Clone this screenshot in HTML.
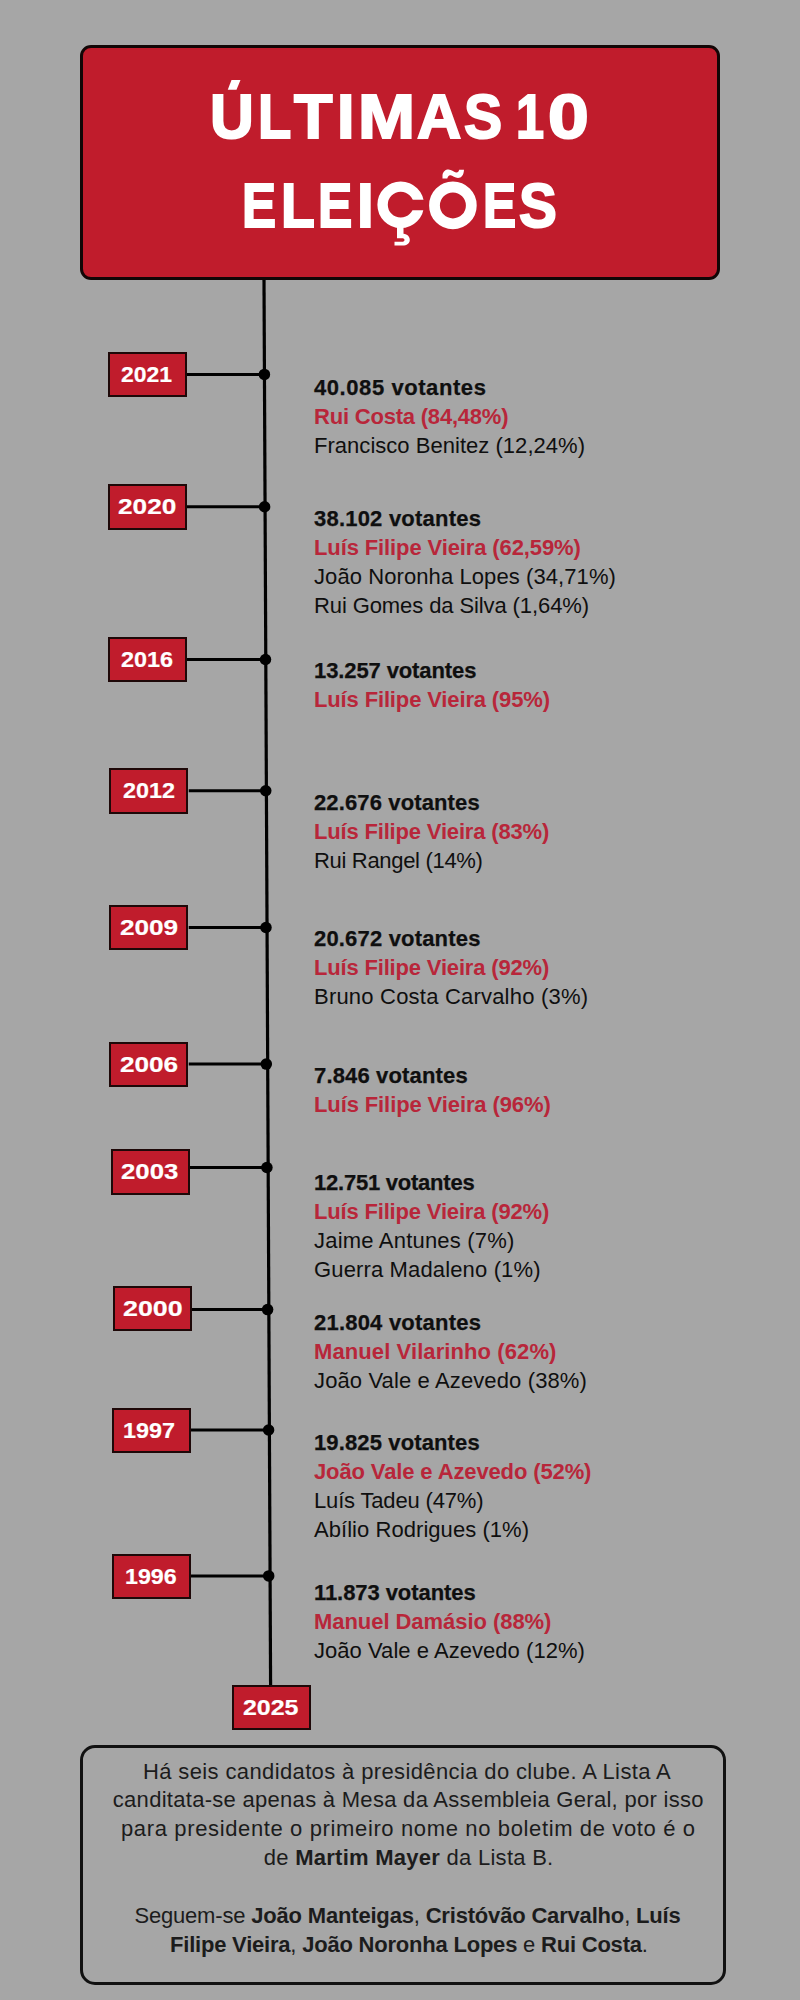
<!DOCTYPE html>
<html><head><meta charset="utf-8">
<style>
html,body{margin:0;padding:0;}
body{width:800px;height:2000px;background:#a6a6a6;position:relative;overflow:hidden;font-family:"Liberation Sans",sans-serif;}
.a{position:absolute;white-space:nowrap;}
.title{position:absolute;left:80px;top:45px;width:640px;height:235px;box-sizing:border-box;background:#c01c2c;border:3px solid #120606;border-radius:11px;}
.tl{position:absolute;transform-origin:0 0;color:#fff;font-weight:bold;font-size:63px;line-height:80px;-webkit-text-stroke:2px #fff;white-space:nowrap;}
.lab{position:absolute;box-sizing:border-box;width:79px;height:45.4px;background:#c01c2c;border:2px solid #1e0808;color:#fff;font-weight:bold;font-size:22px;text-align:center;line-height:42px;}
.lt{position:absolute;transform-origin:0 0;color:#fff;font-weight:bold;font-size:22px;line-height:42px;-webkit-text-stroke:0.2px #fff;white-space:nowrap;}
.ln{position:absolute;left:314px;font-size:22px;line-height:29px;white-space:nowrap;color:#0f0f0f;}
.b{font-weight:bold;-webkit-text-stroke:0.25px #0f0f0f;}
.r{color:#b8263a;font-weight:bold;}
.note{position:absolute;left:80px;top:1745px;width:646px;height:240px;box-sizing:border-box;border:3px solid #111;border-radius:15px;}
.nl{position:absolute;font-size:22px;line-height:29px;color:#1c1c1c;white-space:nowrap;}
</style></head><body>

<div class="title"></div>
<div class="tl" style="left:209.61px;top:75.97px;transform:scaleX(0.9625)">U</div>
<div class="tl" style="left:258.16px;top:75.97px;transform:scaleX(0.8643)">L</div>
<div class="tl" style="left:294.00px;top:75.97px;transform:scaleX(1.0000)">T</div>
<div class="tl" style="left:337.00px;top:75.97px;transform:scaleX(1.0000)">I</div>
<div class="tl" style="left:357.74px;top:75.97px;transform:scaleX(1.0870)">M</div>
<div class="tl" style="left:417.03px;top:75.97px;transform:scaleX(0.9727)">A</div>
<div class="tl" style="left:464.09px;top:75.97px;transform:scaleX(0.9075)">S</div>
<div class="tl" style="left:516.25px;top:75.97px;transform:scaleX(0.8000)">1</div>
<div class="tl" style="left:547.84px;top:75.97px;transform:scaleX(1.1636)">0</div>
<div class="tl" style="left:242.17px;top:165.07px;transform:scaleX(0.8105)">E</div>
<div class="tl" style="left:280.61px;top:165.07px;transform:scaleX(0.8786)">L</div>
<div class="tl" style="left:317.55px;top:165.07px;transform:scaleX(0.8158)">E</div>
<div class="tl" style="left:356.64px;top:165.07px;transform:scaleX(0.9545)">I</div>
<div class="tl" style="left:482.63px;top:165.07px;transform:scaleX(0.7895)">E</div>
<div class="tl" style="left:519.10px;top:165.07px;transform:scaleX(0.9000)">S</div>
<svg class="a" style="left:0;top:0" width="800" height="2000" viewBox="0 0 800 2000"><line x1="264" y1="280" x2="270.6" y2="1686" stroke="#000" stroke-width="3.2"/><line x1="187.00" y1="374.40" x2="264.44" y2="374.40" stroke="#000" stroke-width="3"/><circle cx="264.40" cy="374.40" r="5.75" fill="#000"/><line x1="187.00" y1="506.75" x2="265.06" y2="506.75" stroke="#000" stroke-width="3"/><circle cx="264.60" cy="506.75" r="5.75" fill="#000"/><line x1="187.00" y1="659.50" x2="265.78" y2="659.50" stroke="#000" stroke-width="3"/><circle cx="265.50" cy="659.50" r="5.75" fill="#000"/><line x1="188.75" y1="790.75" x2="266.40" y2="790.75" stroke="#000" stroke-width="3"/><circle cx="265.75" cy="790.75" r="5.75" fill="#000"/><line x1="188.75" y1="927.50" x2="267.04" y2="927.50" stroke="#000" stroke-width="3"/><circle cx="266.00" cy="927.50" r="5.75" fill="#000"/><line x1="188.75" y1="1064.10" x2="267.68" y2="1064.10" stroke="#000" stroke-width="3"/><circle cx="266.30" cy="1064.10" r="5.75" fill="#000"/><line x1="189.50" y1="1167.50" x2="268.17" y2="1167.50" stroke="#000" stroke-width="3"/><circle cx="266.90" cy="1167.50" r="5.75" fill="#000"/><line x1="192.00" y1="1309.60" x2="268.84" y2="1309.60" stroke="#000" stroke-width="3"/><circle cx="267.60" cy="1309.60" r="5.75" fill="#000"/><line x1="190.50" y1="1430.00" x2="269.40" y2="1430.00" stroke="#000" stroke-width="3"/><circle cx="268.60" cy="1430.00" r="5.75" fill="#000"/><line x1="190.50" y1="1575.90" x2="270.09" y2="1575.90" stroke="#000" stroke-width="3"/><circle cx="268.70" cy="1575.90" r="5.75" fill="#000"/><polygon points="231.5,80 240.5,80 236.5,89.75 227.75,89.75" fill="#fff"/><path d="M442.5,178.5 L442.5,175 C443,171.5 445.5,169.5 448.5,169.5 C451.5,169.5 453.5,172 456,172.5 C457.8,172.8 458.8,171.5 459.2,169.8 L464,169.8 C463.8,175 461.5,178 458,178 C455,178 452.5,175.5 450.5,175.3 C448.8,175.1 447.8,176.5 447.3,178.5 Z" fill="#fff"/><circle cx="452.9" cy="205.4" r="18.4" fill="none" stroke="#fff" stroke-width="10.8"/><circle cx="400.7" cy="204.7" r="18.1" fill="none" stroke="#fff" stroke-width="10.4"/><rect x="411" y="199.75" width="16" height="10.5" fill="#c01c2c"/><path d="M397,226 L403.5,226 L403.5,233.8 C407.5,234.2 409.8,236.8 409.8,240 C409.8,243.5 406.8,245.6 402.5,245.6 L394.5,245.6 L394.5,241.8 L402,241.8 C403.5,241.8 404.5,241.2 404.5,240 C404.5,238.8 403.5,238.2 402,238.2 L397,238.2 Z" fill="#fff"/></svg>
<div class="lab" style="left:108.00px;top:352.00px"></div>
<div class="lt" style="left:121.48px;top:354.00px;transform:scaleX(1.0420)">2021</div>
<div class="lab" style="left:107.50px;top:484.25px"></div>
<div class="lt" style="left:118.39px;top:486.25px;transform:scaleX(1.1918)">2020</div>
<div class="lab" style="left:107.50px;top:637.00px"></div>
<div class="lt" style="left:121.47px;top:639.00px;transform:scaleX(1.0638)">2016</div>
<div class="lab" style="left:109.25px;top:768.25px"></div>
<div class="lt" style="left:123.23px;top:770.25px;transform:scaleX(1.0629)">2012</div>
<div class="lab" style="left:109.25px;top:905.00px"></div>
<div class="lt" style="left:120.20px;top:907.00px;transform:scaleX(1.1882)">2009</div>
<div class="lab" style="left:109.25px;top:1041.75px"></div>
<div class="lt" style="left:120.20px;top:1043.75px;transform:scaleX(1.1882)">2006</div>
<div class="lab" style="left:110.50px;top:1149.25px"></div>
<div class="lt" style="left:121.41px;top:1151.25px;transform:scaleX(1.1702)">2003</div>
<div class="lab" style="left:113.00px;top:1285.50px"></div>
<div class="lt" style="left:122.53px;top:1287.50px;transform:scaleX(1.2174)">2000</div>
<div class="lab" style="left:112.00px;top:1407.50px"></div>
<div class="lt" style="left:123.22px;top:1409.50px;transform:scaleX(1.0602)">1997</div>
<div class="lab" style="left:112.00px;top:1553.75px"></div>
<div class="lt" style="left:124.61px;top:1555.75px;transform:scaleX(1.0554)">1996</div>
<div class="lab" style="left:232.00px;top:1685.00px"></div>
<div class="lt" style="left:243.43px;top:1687.00px;transform:scaleX(1.1335)">2025</div>
<div class="note"></div>
<div class="ln b" style="top:373.28px;letter-spacing:0.571px">40.085 votantes</div>
<div class="ln r" style="top:402.28px;letter-spacing:-0.206px">Rui Costa (84,48%)</div>
<div class="ln" style="top:431.28px;letter-spacing:0.030px">Francisco Benitez (12,24%)</div>
<div class="ln b" style="top:504.48px;letter-spacing:0.214px">38.102 votantes</div>
<div class="ln r" style="top:533.48px;letter-spacing:-0.115px">Luís Filipe Vieira (62,59%)</div>
<div class="ln" style="top:562.48px;letter-spacing:0.087px">João Noronha Lopes (34,71%)</div>
<div class="ln" style="top:591.48px;letter-spacing:-0.100px">Rui Gomes da Silva (1,64%)</div>
<div class="ln b" style="top:656.48px;letter-spacing:-0.107px">13.257 votantes</div>
<div class="ln r" style="top:685.48px;letter-spacing:-0.141px">Luís Filipe Vieira (95%)</div>
<div class="ln b" style="top:788.28px;letter-spacing:0.125px">22.676 votantes</div>
<div class="ln r" style="top:817.28px;letter-spacing:-0.174px">Luís Filipe Vieira (83%)</div>
<div class="ln" style="top:846.28px;letter-spacing:-0.317px">Rui Rangel (14%)</div>
<div class="ln b" style="top:924.48px;letter-spacing:0.179px">20.672 votantes</div>
<div class="ln r" style="top:953.48px;letter-spacing:-0.174px">Luís Filipe Vieira (92%)</div>
<div class="ln" style="top:982.48px;letter-spacing:0.208px">Bruno Costa Carvalho (3%)</div>
<div class="ln b" style="top:1061.48px;letter-spacing:0.154px">7.846 votantes</div>
<div class="ln r" style="top:1090.48px;letter-spacing:-0.109px">Luís Filipe Vieira (96%)</div>
<div class="ln b" style="top:1168.28px;letter-spacing:-0.232px">12.751 votantes</div>
<div class="ln r" style="top:1197.28px;letter-spacing:-0.174px">Luís Filipe Vieira (92%)</div>
<div class="ln" style="top:1226.28px;letter-spacing:0.206px">Jaime Antunes (7%)</div>
<div class="ln" style="top:1255.28px;letter-spacing:0.145px">Guerra Madaleno (1%)</div>
<div class="ln b" style="top:1308.28px;letter-spacing:0.214px">21.804 votantes</div>
<div class="ln r" style="top:1337.28px;letter-spacing:0.095px">Manuel Vilarinho (62%)</div>
<div class="ln" style="top:1366.28px;letter-spacing:0.125px">João Vale e Azevedo (38%)</div>
<div class="ln b" style="top:1428.28px;letter-spacing:0.125px">19.825 votantes</div>
<div class="ln r" style="top:1457.28px;letter-spacing:-0.125px">João Vale e Azevedo (52%)</div>
<div class="ln" style="top:1486.28px;letter-spacing:-0.167px">Luís Tadeu (47%)</div>
<div class="ln" style="top:1515.28px;letter-spacing:0.050px">Abílio Rodrigues (1%)</div>
<div class="ln b" style="top:1578.28px;letter-spacing:-0.071px">11.873 votantes</div>
<div class="ln r" style="top:1607.28px;letter-spacing:-0.053px">Manuel Damásio (88%)</div>
<div class="ln" style="top:1636.28px;letter-spacing:0.042px">João Vale e Azevedo (12%)</div>
<div class="nl" style="left:143.00px;top:1756.58px;letter-spacing:0.373px">Há seis candidatos à presidência do clube. A Lista A</div>
<div class="nl" style="left:112.80px;top:1785.38px;letter-spacing:0.289px">canditata-se apenas à Mesa da Assembleia Geral, por isso</div>
<div class="nl" style="left:121.00px;top:1814.38px;letter-spacing:0.632px">para presidente o primeiro nome no boletim de voto é o</div>
<div class="nl" style="left:263.80px;top:1843.18px;letter-spacing:0.265px">de <b>Martim Mayer</b> da Lista B.</div>
<div class="nl" style="left:134.40px;top:1901.28px;letter-spacing:-0.180px">Seguem-se <b>João Manteigas</b>, <b>Cristóvão Carvalho</b>, <b>Luís</b></div>
<div class="nl" style="left:170.00px;top:1929.88px;letter-spacing:-0.211px"><b>Filipe Vieira</b>, <b>João Noronha Lopes</b> e <b>Rui Costa</b>.</div>
</body></html>
